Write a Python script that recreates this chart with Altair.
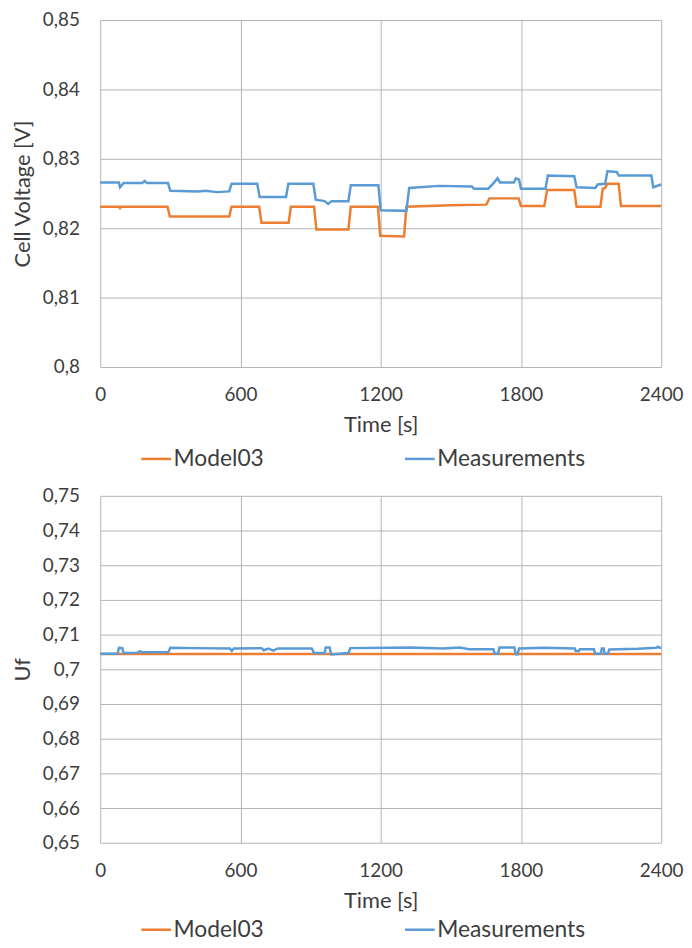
import altair as alt
import pandas as pd

# ---- top panel: cell voltage ----
top_model_t = [0, 80, 85, 90, 288, 298, 552, 562, 680, 690, 806, 816, 915, 925, 1062,
               1072, 1188, 1198, 1300, 1310, 1500, 1652, 1665, 1790, 1800, 1900, 1912,
               2028, 2038, 2140, 2150, 2160, 2170, 2218, 2228, 2400]
top_model_v = [0.8231, 0.8231, 0.8229, 0.8231, 0.8231, 0.8217, 0.8217, 0.8231, 0.8231,
               0.8208, 0.8208, 0.8231, 0.8231, 0.8198, 0.8198, 0.8231, 0.8231, 0.8189,
               0.8188, 0.8231, 0.8233, 0.8234, 0.8243, 0.8243, 0.8232, 0.8232, 0.8255,
               0.8255, 0.8231, 0.8231, 0.8257, 0.8258, 0.8264, 0.8264, 0.8232, 0.8232]

top_meas_t = [0, 80, 85, 92, 100, 180, 190, 200, 290, 300, 420, 450, 500, 552, 562,
              672, 682, 795, 805, 912, 922, 960, 975, 990, 1062, 1072, 1190, 1200, 1310,
              1322, 1450, 1590, 1600, 1660, 1680, 1700, 1710, 1770, 1778, 1792, 1800,
              1905, 1915, 2028, 2038, 2118, 2128, 2160, 2170, 2210, 2218, 2358, 2366, 2400]
top_meas_v = [0.8266, 0.8266, 0.8259, 0.8262, 0.8265, 0.8265, 0.8268, 0.8265, 0.8265,
              0.8254, 0.8253, 0.8254, 0.8252, 0.8253, 0.8264, 0.8264, 0.8245, 0.8245,
              0.8264, 0.8264, 0.8241, 0.8239, 0.8235, 0.8239, 0.8239, 0.8262, 0.8262,
              0.8226, 0.8225, 0.8258, 0.8261, 0.8260, 0.8257, 0.8257, 0.8264, 0.8272,
              0.8266, 0.8266, 0.8272, 0.8270, 0.8257, 0.8257, 0.8276, 0.8275, 0.8259,
              0.8258, 0.8263, 0.8264, 0.8282, 0.8281, 0.8276, 0.8276, 0.8259, 0.8263]

# ---- bottom panel: Uf ----
bot_model_t = [0, 2400]
bot_model_v = [0.7044, 0.7044]

bot_meas_t = [0, 75, 80, 95, 100, 160, 170, 180, 292, 300, 400, 555, 563, 572, 690,
              700, 720, 740, 760, 905, 915, 960, 965, 982, 988, 1062, 1070, 1326, 1467,
              1538, 1578, 1682, 1688, 1702, 1708, 1772, 1778, 1786, 1792, 1900, 2030,
              2034, 2048, 2052, 2112, 2118, 2142, 2146, 2154, 2158, 2172, 2178, 2300,
              2380, 2386, 2394, 2400]
bot_meas_v = [0.7045, 0.7045, 0.7062, 0.7061, 0.7047, 0.7048, 0.7052, 0.7049, 0.7050,
              0.7062, 0.7061, 0.7060, 0.7053, 0.7060, 0.7061, 0.7055, 0.7060, 0.7054,
              0.7060, 0.7060, 0.7047, 0.7047, 0.7063, 0.7063, 0.7043, 0.7047, 0.7061,
              0.7063, 0.7060, 0.7063, 0.7058, 0.7058, 0.7045, 0.7045, 0.7063, 0.7063,
              0.7043, 0.7043, 0.7060, 0.7062, 0.7060, 0.7053, 0.7053, 0.7058, 0.7058,
              0.7045, 0.7045, 0.7060, 0.7060, 0.7045, 0.7045, 0.7057, 0.7059, 0.7062,
              0.7065, 0.7062, 0.7062]

x_ticks = [0, 600, 1200, 1800, 2400]
top_y_ticks = [0.80, 0.81, 0.82, 0.83, 0.84, 0.85]
bot_y_ticks = [0.65, 0.66, 0.67, 0.68, 0.69, 0.70, 0.71, 0.72, 0.73, 0.74, 0.75]

series_names = ["Model03", "Measurements"]
series_colors = ["#ED7D31", "#5B9BD5"]

FONT = "Lato"
TXT = "#3d3d3d"
GRID = "#b3b3b3"
W, H = 566, 350


def frame(ts, vs, name):
    return pd.DataFrame({"t": ts, "v": vs, "series": name})


def panel(model_df, meas_df, ydom, yticks, ytitle, legend_off):
    color = alt.Color(
        "series:N",
        scale=alt.Scale(domain=series_names, range=series_colors),
        legend=alt.Legend(
            orient="none", legendX=40, legendY=H + legend_off, direction="horizontal",
            title=None, symbolType="stroke", symbolSize=900, symbolStrokeWidth=2.5,
            labelFont=FONT, labelFontSize=23, labelColor=TXT, labelOffset=1,
            columnPadding=136,
        ),
    )
    x = alt.X(
        "t:Q",
        scale=alt.Scale(domain=[0, 2400], nice=False),
        axis=alt.Axis(values=x_ticks, title="Time [s]", grid=True, gridColor=GRID,
                      domain=False, ticks=False, tickSize=0, labelPadding=19,
                      titlePadding=10, labelFlush=False, format="d"),
    )
    y = alt.Y(
        "v:Q",
        scale=alt.Scale(domain=ydom, nice=False, zero=False),
        axis=alt.Axis(values=yticks, title=ytitle, grid=True, gridColor=GRID,
                      domain=False, ticks=False, tickSize=0, labelPadding=21,
                      titlePadding=8,
                      labelExpr="replace(format(datum.value, '.2~f'), '.', ',')"),
    )
    lm = alt.Chart(model_df).mark_line(strokeWidth=2.5).encode(x=x, y=y, color=color)
    lb = alt.Chart(meas_df).mark_line(strokeWidth=2.5).encode(x=x, y=y, color=color)
    return alt.layer(lm, lb).properties(width=W, height=H)


top = panel(frame(top_model_t, top_model_v, "Model03"),
            frame(top_meas_t, top_meas_v, "Measurements"),
            [0.80, 0.85], top_y_ticks, "Cell Voltage [V]", 76)
bottom = panel(frame(bot_model_t, bot_model_v, "Model03"),
               frame(bot_meas_t, bot_meas_v, "Measurements"),
               [0.65, 0.75], bot_y_ticks, "Uf", 71)

chart = (
    alt.vconcat(top, bottom, spacing=16)
    .resolve_scale(color="independent")
    .resolve_legend(color="independent")
    .properties(padding={"left": 3, "top": -1, "right": 0, "bottom": 0})
    .configure_view(stroke=None)
    .configure_axis(labelFont=FONT, labelFontSize=19, labelColor=TXT,
                    titleFont=FONT, titleFontSize=22, titleColor=TXT,
                    titleFontWeight="normal", gridWidth=1)
)

chart.save("out.html", embed_options={"renderer": "svg", "actions": False})
